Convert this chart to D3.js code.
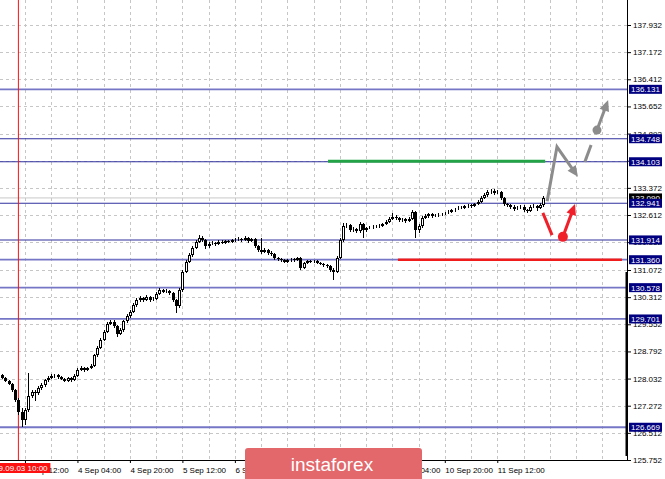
<!DOCTYPE html>
<html><head><meta charset="utf-8">
<script src="https://cdn.jsdelivr.net/npm/d3@7"></script>
<style>body{margin:0;background:#fff}svg{display:block}text{font-family:"Liberation Sans",Arial,sans-serif}</style>
</head><body><svg id="c" width="665" height="479"></svg>
<script>
// ---------- DATA ----------
const opens = [128.12,128.05,127.96,127.88,127.71,127.43,127.10,126.87,127.15,127.54,
127.66,127.63,127.77,127.85,127.99,128.05,128.10,128.13,128.07,128.02,
127.96,128.05,127.99,128.10,128.27,128.33,128.27,128.33,128.38,128.69,
128.89,129.11,129.34,129.56,129.62,129.50,129.28,129.39,129.64,129.78,
129.90,130.09,130.23,130.29,130.23,130.32,130.23,130.26,130.40,130.51,
130.46,130.48,130.43,130.23,130.06,130.51,131.02,131.30,131.49,131.69,
131.86,131.97,131.91,131.74,131.80,131.83,131.80,131.86,131.83,131.88,
131.86,131.91,131.91,131.94,131.91,131.97,131.88,131.94,131.74,131.63,
131.58,131.63,131.55,131.52,131.41,131.38,131.35,131.30,131.35,131.38,
131.35,131.41,131.13,131.27,131.32,131.30,131.32,131.27,131.24,131.21,
131.18,131.07,131.02,131.41,131.91,132.30,132.33,132.19,132.22,132.16,
132.36,132.19,132.25,132.25,132.28,132.30,132.30,132.36,132.42,132.50,
132.56,132.53,132.47,132.50,132.44,132.50,132.70,132.19,132.30,132.53,
132.58,132.64,132.58,132.61,132.61,132.64,132.67,132.70,132.75,132.78,
132.81,132.81,132.86,132.89,132.86,132.92,132.98,133.09,133.17,133.26,
133.28,133.23,133.26,133.09,132.92,132.89,132.84,132.78,132.81,132.84,
132.75,132.72,132.84,132.86,132.81,132.89];
const closes = [128.05,127.96,127.88,127.71,127.43,127.10,126.87,127.15,127.54,127.66,
127.63,127.77,127.85,127.99,128.05,128.10,128.13,128.07,128.02,127.96,
128.05,127.99,128.10,128.27,128.33,128.27,128.33,128.38,128.69,128.89,
129.11,129.34,129.56,129.62,129.50,129.28,129.39,129.64,129.78,129.90,
130.09,130.23,130.29,130.23,130.32,130.23,130.26,130.40,130.51,130.46,
130.48,130.43,130.23,130.06,130.51,131.02,131.30,131.49,131.69,131.86,
131.97,131.91,131.74,131.80,131.83,131.80,131.86,131.83,131.88,131.86,
131.91,131.91,131.94,131.91,131.97,131.88,131.94,131.74,131.63,131.58,
131.63,131.55,131.52,131.41,131.38,131.35,131.30,131.35,131.38,131.35,
131.41,131.13,131.27,131.32,131.30,131.32,131.27,131.24,131.21,131.18,
131.07,131.02,131.41,131.91,132.30,132.33,132.19,132.22,132.16,132.36,
132.19,132.25,132.25,132.28,132.30,132.30,132.36,132.42,132.50,132.56,
132.53,132.47,132.50,132.44,132.50,132.70,132.19,132.30,132.53,132.58,
132.64,132.58,132.61,132.61,132.64,132.67,132.70,132.75,132.78,132.81,
132.81,132.86,132.89,132.86,132.92,132.98,133.09,133.17,133.26,133.28,
133.23,133.26,133.09,132.92,132.89,132.84,132.78,132.81,132.84,132.75,
132.72,132.84,132.86,132.81,132.89,133.09];
const highs = [128.16,128.08,127.99,127.91,127.74,127.48,127.22,127.20,128.19,127.72,
127.70,127.82,127.90,128.03,128.10,128.16,128.17,128.16,128.10,128.05,
128.09,128.08,128.15,128.32,128.38,128.36,128.37,128.43,128.73,128.94,
129.16,129.38,129.61,129.67,129.66,129.54,129.44,129.68,129.83,129.95,
130.14,130.28,130.34,130.33,130.37,130.35,130.31,130.45,130.57,130.55,
130.53,130.52,130.46,130.27,130.56,131.08,131.35,131.55,131.74,131.92,
132.06,132.03,131.95,131.85,131.88,131.87,131.90,131.90,131.92,131.92,
131.95,131.96,131.99,131.98,132.02,132.00,131.98,131.97,131.78,131.97,
131.68,131.67,131.60,131.55,131.45,131.42,131.39,131.39,131.42,131.41,
131.45,131.44,131.31,131.36,131.36,131.36,131.35,131.30,131.28,131.25,
131.22,131.12,131.46,131.97,132.38,132.40,132.37,132.28,132.26,132.42,
132.40,132.29,132.30,132.32,132.34,132.35,132.40,132.46,132.55,132.66,
132.60,132.57,132.54,132.53,132.55,132.76,132.73,132.36,132.58,132.63,
132.68,132.67,132.65,132.66,132.68,132.71,132.74,132.79,132.82,132.86,
132.86,132.90,132.93,132.93,132.96,133.03,133.14,133.22,133.32,133.34,
133.33,133.31,133.29,133.12,132.96,132.93,132.88,132.86,132.88,132.88,
132.79,132.89,132.91,132.90,132.94,133.14];
const lows = [128.01,127.93,127.84,127.66,127.38,127.02,126.67,126.72,127.10,127.48,
127.40,127.58,127.72,127.80,127.95,128.02,128.06,128.03,127.98,127.93,
127.93,127.95,127.96,128.07,128.24,128.23,128.24,128.30,128.35,128.65,
128.85,129.08,129.30,129.52,129.45,129.20,129.24,129.35,129.60,129.74,
129.86,130.05,130.19,130.18,130.20,130.19,130.20,130.23,130.37,130.42,
130.42,130.38,130.17,129.87,130.02,130.47,130.98,131.26,131.45,131.65,
131.82,131.86,131.66,131.70,131.76,131.75,131.77,131.79,131.80,131.82,
131.83,131.87,131.88,131.87,131.88,131.84,131.85,131.69,131.58,131.53,
131.55,131.50,131.47,131.36,131.33,131.30,131.26,131.27,131.31,131.31,
131.32,131.08,131.10,131.24,131.26,131.27,131.23,131.20,131.17,131.14,
131.01,130.79,130.98,131.37,131.86,132.24,132.14,132.15,132.12,132.12,
131.97,132.15,132.21,132.22,132.25,132.26,132.27,132.33,132.38,132.46,
132.48,132.43,132.43,132.40,132.41,132.46,131.97,132.10,132.26,132.49,
132.54,132.54,132.55,132.57,132.58,132.61,132.63,132.67,132.71,132.75,
132.77,132.77,132.82,132.82,132.83,132.89,132.95,133.05,133.13,133.20,
133.18,133.19,133.04,132.86,132.84,132.79,132.72,132.74,132.77,132.70,
132.67,132.69,132.80,132.72,132.77,132.85];

const priceTicks = [125.752,126.512,127.272,128.032,128.792,129.552,130.312,131.072,131.852,132.612,133.372,134.132,134.892,135.652,136.412,137.172,137.932];
const timeLabels = ["3 Sep 12:00","4 Sep 04:00","4 Sep 20:00","5 Sep 12:00","6 Sep 04:00","6 Sep 20:00","9 Sep 12:00","10 Sep 04:00","10 Sep 20:00","11 Sep 12:00"];
const timeLabelBars = [7,23,39,55,71,87,103,119,135,151];
const levels = [136.131,134.748,134.103,132.941,131.914,131.360,130.578,129.701,126.669];
const markerBar = 5, markerLabel = "2019.09.03 10:00";
const bidPrice = 133.09;
// forecast drawings (bar index, price)
const greenLine = [[99.4,134.12],[165.6,134.12]];
const redLine = [[120.7,131.36],[189.0,131.36]];
const grayZig = [[166.2,133.00],[169.2,134.52],[175.6,133.68]];
const grayDash = [[177.7,134.10],[179.6,134.57]];
const grayUp = [[181.4,134.99],[184.8,135.83]];
const redDown = [[164.9,132.67],[167.7,132.05]];
const redUp = [[171.0,132.00],[174.7,132.92]];

// ---------- CHART ----------
const svg = d3.select("#c");
const W = 627, H = 460;
const x = d3.scaleLinear().domain([0,165]).range([2,543.2]);
const y = d3.scaleLinear().domain([125.752,137.932]).range([460,25]);
const fmt = d3.format(".3f");

// grid
const grid = svg.append("g").attr("stroke","#c6c6c6").attr("stroke-dasharray","3,3").attr("shape-rendering","crispEdges");
priceTicks.forEach(p=>grid.append("line").attr("x1",0).attr("x2",W).attr("y1",Math.round(y(p))+0.5).attr("y2",Math.round(y(p))+0.5));
d3.range(7,191,8).forEach(b=>{const xx=Math.round(x(b))+0.5; if(xx<W) grid.append("line").attr("x1",xx).attr("x2",xx).attr("y1",0).attr("y2",H);});

// bid line
svg.append("line").attr("x1",0).attr("x2",W).attr("y1",y(bidPrice)).attr("y2",y(bidPrice)).attr("stroke","#c8c8c8").attr("stroke-width",1);

// levels
const heavy = new Set([136.131,131.360,130.578,129.701,126.669]);
levels.forEach(l=>{
  svg.append("line").attr("x1",0).attr("x2",W).attr("y1",y(l)).attr("y2",y(l))
    .attr("stroke",heavy.has(l)?"#7676c6":"#30309e").attr("stroke-width",heavy.has(l)?1.8:1.1);
});

// red vertical marker
svg.append("line").attr("x1",x(markerBar)).attr("x2",x(markerBar)).attr("y1",0).attr("y2",H).attr("stroke","#ff1010").attr("stroke-width",1);

// candles
const cg = svg.append("g").attr("shape-rendering","crispEdges");
closes.forEach((c,i)=>{
  const o=opens[i], cx=Math.round(x(i));
  cg.append("line").attr("x1",cx+0.5).attr("x2",cx+0.5).attr("y1",y(highs[i])).attr("y2",y(lows[i])).attr("stroke","#000");
  const top=Math.round(y(Math.max(o,c))), bot=Math.max(Math.round(y(Math.min(o,c))),top+1);
  if(c>=o){
    cg.append("rect").attr("x",cx-0.5).attr("y",top+0.5).attr("width",2).attr("height",Math.max(bot-top-1,0)).attr("fill","#fff").attr("stroke","#000");
  } else {
    cg.append("rect").attr("x",cx-1).attr("y",top).attr("width",3).attr("height",bot-top).attr("fill","#000");
  }
});

// forecast lines
const line = d3.line().x(d=>x(d[0])).y(d=>y(d[1]));
svg.append("path").attr("d",line(greenLine)).attr("stroke","#23a345").attr("stroke-width",3).attr("fill","none");
svg.append("path").attr("d",line(redLine)).attr("stroke","#f01c1c").attr("stroke-width",2.5).attr("fill","none");
function arrow(pts,color,w,len,hw){
  const n=pts.length, a=pts[n-2], b=pts[n-1];
  const x1=x(a[0]),y1=y(a[1]),x2=x(b[0]),y2=y(b[1]);
  const dx=x2-x1, dy=y2-y1, L=Math.hypot(dx,dy), ux=dx/L, uy=dy/L;
  const bx=x2-ux*len, by=y2-uy*len;
  const shaft = pts.slice(0,n-1).map(p=>[x(p[0]),y(p[1])]).concat([[bx+ux*1,by+uy*1]]);
  svg.append("path").attr("d",d3.line()(shaft)).attr("stroke",color).attr("stroke-width",w).attr("fill","none").attr("stroke-linejoin","miter");
  svg.append("path").attr("d",`M${x2},${y2}L${bx-uy*hw},${by+ux*hw}L${bx+uy*hw},${by-ux*hw}Z`).attr("fill",color);
}
const gray="#8c8c8c", red="#f0202a";
arrow(grayZig,gray,3,11,5);
svg.append("path").attr("d",line(grayDash)).attr("stroke",gray).attr("stroke-width",3).attr("fill","none");
svg.append("circle").attr("cx",x(grayUp[0][0])).attr("cy",y(grayUp[0][1])).attr("r",4.5).attr("fill",gray);
arrow(grayUp,gray,3,11,5);
svg.append("path").attr("d",line(redDown)).attr("stroke",red).attr("stroke-width",3).attr("fill","none");
svg.append("circle").attr("cx",x(redUp[0][0])).attr("cy",y(redUp[0][1])).attr("r",5).attr("fill",red);
arrow(redUp,red,3,11,5);

// axes
svg.append("rect").attr("x",0).attr("y",0).attr("width",1).attr("height",0);
const ya = svg.append("g").attr("transform",`translate(${W},0)`)
  .call(d3.axisRight(y).tickValues(priceTicks).tickFormat(fmt).tickSize(4).tickPadding(2));
ya.select(".domain").remove();
ya.selectAll("text").attr("font-size",8).attr("font-family","Liberation Sans, Arial").attr("fill","#000");
ya.selectAll("line").attr("stroke","#000");
const xa = svg.append("g").attr("transform",`translate(0,${H})`)
  .call(d3.axisBottom(x).tickValues(timeLabelBars).tickFormat((d,i)=>timeLabels[i]).tickSize(3).tickPadding(3));
xa.select(".domain").remove();
xa.selectAll("text").attr("font-size",8).attr("font-family","Liberation Sans, Arial").attr("fill","#000").attr("text-anchor","start").attr("dy","0.9em");
xa.selectAll("line").attr("stroke","#000");
svg.append("line").attr("x1",W+0.5).attr("x2",W+0.5).attr("y1",0).attr("y2",H+1).attr("stroke","#000");
svg.append("line").attr("x1",0).attr("x2",W+1).attr("y1",H+0.5).attr("y2",H+0.5).attr("stroke","#000");
svg.append("line").attr("x1",W-0.5).attr("x2",W-0.5).attr("y1",272).attr("y2",456).attr("stroke","#000").attr("stroke-width",2);

// bid label
function priceLabel(p,bg){
  const yy=y(p);
  svg.append("rect").attr("x",W+2).attr("y",yy-4.5).attr("width",33).attr("height",9).attr("fill",bg);
  svg.append("text").attr("x",W+4).attr("y",yy+3).attr("font-size",8).attr("fill","#fff").text(fmt(p));
}
priceLabel(bidPrice,"#000");
levels.forEach(l=>priceLabel(l,"#000080"));

// marker time label
const mx=x(markerBar);
svg.append("rect").attr("x",mx-34).attr("y",463).attr("width",66).attr("height",10).attr("fill","#ff1010");
svg.append("text").attr("x",mx-2).attr("y",471).attr("text-anchor","middle").attr("font-size",8).attr("fill","#fff").text(markerLabel);

// logo
svg.append("rect").attr("x",245).attr("y",448).attr("width",177).attr("height",34).attr("rx",3).attr("fill","#e2686c");
svg.append("text").attr("x",332).attr("y",471).attr("text-anchor","middle").attr("font-family","Open Sans, sans-serif").attr("font-size",19).attr("fill","#fff").text("instaforex");
</script></body></html>
